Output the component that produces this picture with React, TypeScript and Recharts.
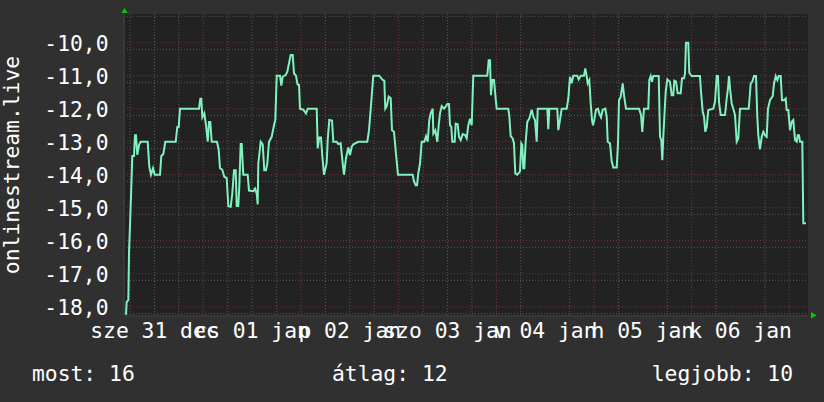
import React from 'react';
import { CartesianGrid, Line, LineChart, XAxis, YAxis } from 'recharts';

// hours since 31 dec 00:00
const hours = [
  5.01, 5.18, 5.58, 5.75, 6.17, 6.56, 6.98, 7.22, 7.47, 7.79, 8.21, 8.62, 10.34, 10.74, 11.15, 11.65, 12.06,
  13.37, 13.69, 14.18, 14.67, 17.22, 17.62, 17.96, 18.28, 22.95, 23.27, 23.51, 23.76, 24.25, 24.67, 25.09,
  25.41, 25.72, 26.07, 27.37, 27.79, 28.11, 28.67, 29.16, 29.75, 30.15, 30.74, 31.13, 31.55, 31.97, 32.21,
  32.6, 32.85, 33.19, 33.44, 33.83, 34.91, 35.23, 36.29, 36.71, 37.13, 37.37, 37.52, 38.11, 38.6, 38.99,
  39.41, 39.73, 40.15, 40.81, 41.38, 41.7, 42.04, 42.85, 43.17, 43.51, 44.25, 44.64, 45.06, 45.48, 45.97,
  46.29, 46.78, 47.15, 47.52, 47.76, 48.57, 49.24, 49.66, 51.87, 52.11, 52.51, 52.92, 53.24, 53.66, 54.32,
  54.57, 54.96, 55.63, 55.95, 56.78, 57.17, 57.76, 58.26, 58.57, 59.07, 59.63, 60.05, 60.47, 60.86, 62.09,
  64.3, 64.72, 65.14, 65.77, 67.25, 68.08, 68.48, 68.72, 69.07, 69.56, 70.05, 70.37, 70.86, 71.35, 71.84,
  75.45, 75.77, 76.19, 76.51, 76.83, 77.25, 77.66, 78.31, 78.72, 79.14, 79.53, 79.88, 80.37, 80.52, 81.01,
  81.5, 81.84, 82.16, 82.58, 83.15, 83.64, 83.96, 84.37, 84.62, 84.94, 85.18, 85.77, 86.02, 86.51, 86.83,
  87.25, 87.74, 88.31, 88.72, 89.12, 89.53, 89.95, 90.34, 93.78, 94.13, 94.45, 94.69, 95.01, 95.43, 95.68,
  96.09, 98.94, 99.19, 99.53, 100.02, 100.34, 100.66, 101.15, 101.82, 102.14, 102.38, 102.63, 102.87,
  103.22, 103.61, 104.1, 104.69, 105.09, 105.5, 105.92, 106.17, 108.53, 108.77, 109.02, 110.98, 111.23,
  111.65, 112.06, 113.29, 113.69, 114.1, 114.52, 114.91, 115.9, 116.24, 116.73, 117.54, 117.86, 118.21,
  118.45, 118.85, 119.19, 119.51, 119.75, 120.07, 120.49, 120.98, 121.3, 121.72, 122.14, 122.78, 123.12,
  123.37, 123.93, 124.35, 124.74, 125.58, 125.9, 126.14, 126.56, 127.05, 127.37, 127.86, 131.06, 131.55,
  131.87, 132.28, 133.34, 133.59, 133.93, 134.25, 134.57, 135.9, 136.22, 136.54, 136.78, 137.03, 137.37,
  137.62, 138.01, 138.67, 139.09, 139.48, 139.73, 140.15, 140.56, 141.3, 141.62, 142.11, 142.36, 142.6,
  143.17, 143.41, 144.0, 146.04, 146.29, 146.71, 147.03, 147.35, 147.69, 148.08, 149.31, 149.73, 150.15,
  150.47, 150.71, 151.13, 152.19, 152.6, 152.92, 153.17, 153.42, 153.83, 154.23, 154.64, 155.06, 155.45,
  155.87, 158.01, 158.16, 158.5, 158.89, 159.31, 159.8, 160.12, 160.37, 160.78, 161.21, 161.6, 162.01,
  162.43, 162.75, 163.24, 163.91, 164.23, 164.65, 165.04, 165.38, 165.87, 166.19, 166.68, 167.1, 167.34,
  167.74, 168.16, 168.58, 168.97, 169.39, 169.81, 170.05, 170.37, 170.61, 171.18, 171.43, 172.09,
];

const values = [
  -18.25, -17.85, -17.8, -16.36, -14.92, -13.43, -13.43, -12.8, -12.8, -13.4, -13.1, -13.0, -13.0, -13.76,
  -14.0, -13.8, -14.0, -14.0, -13.43, -13.37, -13.0, -13.0, -12.55, -12.55, -12.0, -12.0, -11.7, -11.7,
  -12.26, -12.14, -12.5, -13.0, -12.4, -12.4, -13.0, -13.0, -13.25, -13.8, -13.85, -14.06, -14.1, -14.95,
  -14.97, -14.57, -13.86, -13.86, -14.95, -14.95, -14.36, -13.07, -13.07, -14.0, -14.0, -14.48, -14.5,
  -14.42, -14.57, -14.9, -13.66, -13.0, -13.08, -13.86, -13.86, -13.66, -13.0, -12.85, -12.5, -12.34, -11.0,
  -11.0, -11.3, -11.03, -10.98, -10.88, -10.63, -10.37, -10.37, -10.93, -11.0, -11.26, -11.28, -12.0,
  -12.03, -12.14, -12.0, -12.0, -13.2, -12.87, -12.87, -13.43, -14.0, -13.64, -12.95, -12.34, -12.36,
  -13.0, -13.0, -13.07, -13.05, -13.66, -14.0, -13.5, -13.17, -13.4, -13.15, -13.08, -13.0, -13.0, -12.65,
  -12.0, -11.0, -11.0, -11.13, -11.15, -12.0, -11.93, -11.63, -11.68, -12.65, -12.7, -13.37, -14.0, -14.0,
  -14.2, -14.32, -14.32, -13.96, -13.66, -13.0, -13.0, -12.83, -13.0, -12.34, -12.14, -12.0, -12.75,
  -12.65, -13.0, -12.5, -12.14, -11.92, -12.0, -11.92, -11.86, -11.86, -12.5, -12.55, -13.0, -13.0, -12.45,
  -12.47, -12.85, -12.95, -12.77, -12.8, -12.9, -12.5, -12.3, -12.5, -11.0, -11.0, -10.53, -10.53, -11.59,
  -11.13, -11.13, -11.48, -12.0, -12.0, -12.22, -12.83, -12.9, -13.05, -13.96, -14.0, -13.9, -13.05,
  -13.1, -13.8, -13.8, -13.0, -12.4, -12.3, -12.03, -12.24, -12.34, -13.0, -12.0, -12.0, -12.62, -12.0,
  -12.0, -12.65, -12.34, -12.0, -12.0, -11.69, -11.03, -11.23, -11.0, -11.0, -11.11, -11.0, -11.0, -10.78,
  -11.01, -11.23, -11.13, -11.84, -12.34, -12.5, -12.34, -12.03, -12.0, -12.14, -12.26, -12.03, -12.0,
  -12.24, -13.0, -13.05, -13.6, -13.78, -13.78, -13.05, -11.74, -11.64, -11.23, -11.59, -12.0, -12.0,
  -12.19, -12.7, -12.0, -12.0, -11.13, -11.01, -11.18, -11.01, -11.01, -12.85, -12.95, -13.56, -12.85,
  -12.04, -11.48, -11.11, -11.18, -11.59, -11.59, -11.15, -11.18, -11.53, -11.53, -11.08, -11.08, -10.93,
  -10.0, -10.0, -10.91, -11.01, -11.01, -11.48, -12.09, -12.24, -12.7, -12.55, -12.04, -12.0, -11.79,
  -11.01, -11.01, -11.79, -12.19, -12.19, -11.69, -11.38, -11.01, -11.38, -11.84, -12.0, -12.19, -13.0,
  -12.9, -12.0, -12.0, -11.79, -11.23, -11.18, -11.01, -11.01, -12.24, -12.8, -13.23, -12.85, -12.7,
  -12.8, -12.85, -12.0, -11.74, -11.62, -11.23, -11.01, -11.13, -11.01, -11.01, -11.74, -11.74, -11.69,
  -12.04, -12.04, -12.65, -12.39, -12.34, -12.95, -13.0, -12.8, -12.8, -13.0, -13.0, -15.47, -15.47,
];

const dayTicks = [12, 36, 60, 84, 108, 132, 156];
const dayLabels = ['sze 31 dec', 'cs 01 jan', 'p 02 jan', 'szo 03 jan', 'v 04 jan', 'h 05 jan', 'k 06 jan'];
const valueTicks = [-18, -17, -16, -15, -14, -13, -12, -11, -10];
const seriesName = 'onlinestream.live';
const summary = ['most: 16', 'átlag: 12', 'legjobb: 10'];

const data = hours.map((t, i) => ({ t, v: values[i] }));

const xDomain: [number, number] = [4.52, 172.58];
const yDomain: [number, number] = [-18.27, -9.13];

const minorY: number[] = [];
for (let k = -91; k <= -46; k++) if (k % 5 !== 0) minorY.push(k / 5);
const minorX: number[] = [];
for (let h = 6; h < 172; h += 6) if (h % 24 !== 0) minorX.push(h);
const majorX = [24, 48, 72, 96, 120, 144, 168];

const FONT = "'DejaVu Sans Mono', monospace";
const FS = 21.33;
const TXT = '#ffffff';

function YTick({ y, payload }: any) {
  const label = Number(payload.value).toFixed(1).replace('.', ',');
  return (
    <text x={108.5} y={y + 8} textAnchor="end" fill={TXT} fontFamily={FONT} fontSize={FS}>
      {label}
    </text>
  );
}

function XTick({ x, payload }: any) {
  const idx = dayTicks.indexOf(payload.value);
  return (
    <text x={x} y={338} textAnchor="middle" fill={TXT} fontFamily={FONT} fontSize={FS}>
      {dayLabels[idx]}
    </text>
  );
}

export default function App() {
  return (
    <div style={{ position: 'fixed', left: 0, top: 0, width: 824, height: 402, background: '#303030' }}>
      <LineChart width={824} height={402} data={data} margin={{ top: 14, right: 16, bottom: 0, left: 0 }}>
        <CartesianGrid
          fill="#222222"
          stroke="#575757"
          strokeDasharray="1 2"
          horizontalValues={minorY}
          verticalValues={minorX}
        />
        <CartesianGrid
          stroke="#7a3333"
          strokeDasharray="1 2"
          horizontalValues={valueTicks}
          verticalValues={majorX}
        />
        <XAxis
          type="number"
          dataKey="t"
          domain={xDomain}
          ticks={dayTicks}
          height={86.3}
          axisLine={{ stroke: '#383838', strokeWidth: 2 }}
          tickLine={false}
          tick={<XTick />}
          allowDataOverflow
        />
        <YAxis
          type="number"
          domain={yDomain}
          ticks={valueTicks}
          width={124}
          axisLine={{ stroke: '#383838', strokeWidth: 2 }}
          tickLine={false}
          tick={<YTick />}
          allowDataOverflow
        />
        <Line
          type="linear"
          dataKey="v"
          stroke="#7ff2bf"
          strokeWidth={2}
          dot={false}
          isAnimationActive={false}
        />
      </LineChart>
      <svg
        width={824}
        height={402}
        style={{ position: 'absolute', left: 0, top: 0, pointerEvents: 'none' }}
      >
        <text
          transform="translate(19,165) rotate(-90)"
          textAnchor="middle"
          fill={TXT}
          fontFamily={FONT}
          fontSize={FS}
        >
          {seriesName}
        </text>
        <polygon points="121.5,13 127.5,13 124.5,8" fill="#00cc00" />
        <polygon points="811,312 811,318.6 816.8,315.3" fill="#00cc00" />
        <text x={32} y={381} fill={TXT} fontFamily={FONT} fontSize={FS}>
          {summary[0]}
        </text>
        <text x={332} y={381} fill={TXT} fontFamily={FONT} fontSize={FS}>
          {summary[1]}
        </text>
        <text x={793} y={381} textAnchor="end" fill={TXT} fontFamily={FONT} fontSize={FS}>
          {summary[2]}
        </text>
      </svg>
    </div>
  );
}
